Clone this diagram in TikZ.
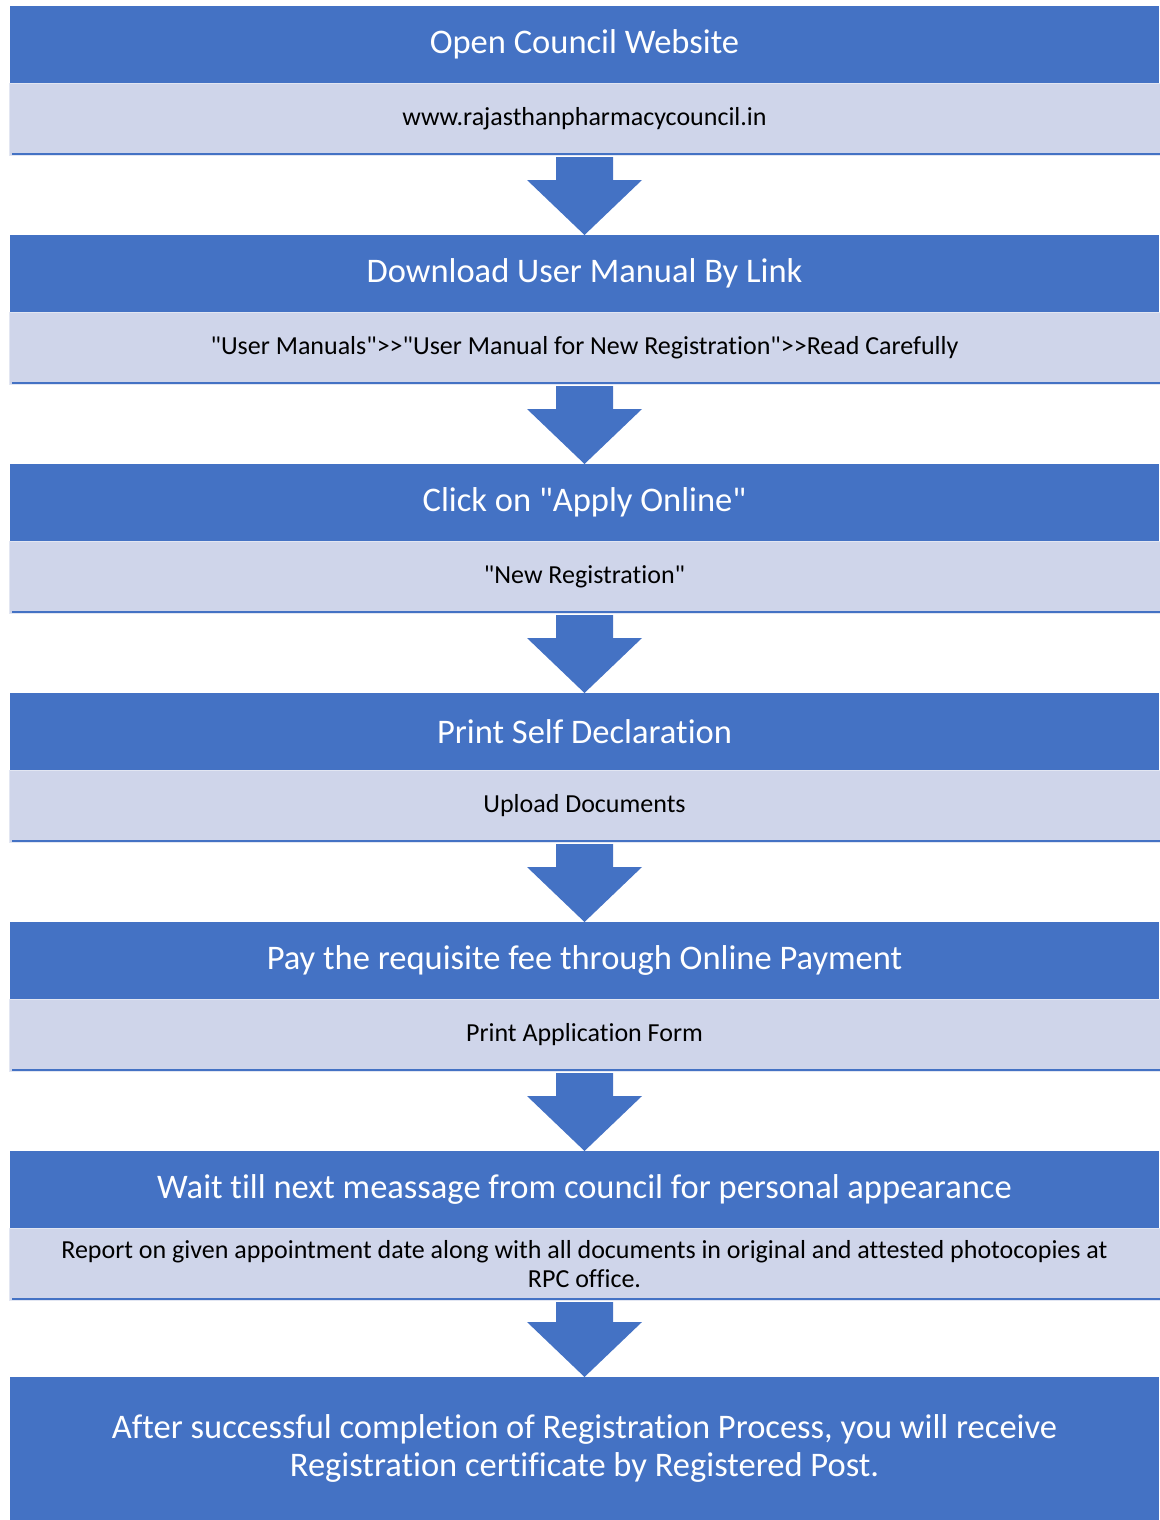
\documentclass[tikz,border=0pt]{standalone}
\usepackage{fontspec}
\setmainfont{Carlito}[Ligatures={TeXOff, CommonOff}]
\usetikzlibrary{positioning, calc}
\definecolor{stepblue}{HTML}{4472C4}
\definecolor{steplight}{HTML}{CFD5EA}
\tikzset{
    head/.style={fill=stepblue, text=white, minimum width=1149pt, minimum height=77pt,
      inner sep=0pt, outer sep=0pt, font=\fontsize{34.5}{38}\selectfont},
    sub/.style={fill=steplight, draw=steplight!60, minimum width=1151pt, minimum height=72pt,
      inner sep=0pt, outer sep=0pt, align=center, font=\fontsize{26}{29}\selectfont},
    subline/.style={stepblue, line width=2pt},
    bigarrow/.style={fill=stepblue},
}
% block arrow from the bottom of one box to the top of the next
\newcommand{\StepArrow}[2]{
    \fill[bigarrow] ($(#1.south)+(-28.5,-2)$) -- ($(#1.south)+(28.5,-2)$)
      -- ($(#2.north)+(28.5,55)$) -- ($(#2.north)+(57.5,55)$) -- (#2.north)
      -- ($(#2.north)+(-57.5,55)$) -- ($(#2.north)+(-28.5,55)$) -- cycle;
}

\begin{document}
\begin{tikzpicture}[x=1pt, y=1pt]
    \useasboundingbox (0,0) rectangle (1159,-1520);
    \tikzset{node distance=80pt}

    \node[head] (h1) at (584.5,-44.5) {Open Council Website};
    \node[sub, below=0pt of h1] (s1) {www.rajasthanpharmacycouncil.in};

    \node[head, below=of s1] (h2) {Download User Manual By Link};
    \node[sub, below=0pt of h2] (s2) {"User Manuals">>"User Manual for New Registration">>Read Carefully};

    \node[head, below=of s2] (h3) {Click on "Apply Online"};
    \node[sub, below=0pt of h3] (s3) {"New Registration"};

    \node[head, below=of s3] (h4) {Print Self Declaration};
    \node[sub, below=0pt of h4] (s4) {Upload Documents};

    \node[head, below=of s4] (h5) {Pay the requisite fee through Online Payment};
    \node[sub, below=0pt of h5] (s5) {Print Application Form};

    \node[head, below=of s5] (h6) {Wait till next meassage from council for personal appearance};
    \node[sub, below=0pt of h6] (s6) {Report on given appointment date along with all documents in original and attested photocopies at\\RPC office.};

    \node[head, minimum height=143pt, align=center, below=77pt of s6] (h7)
      {After successful completion of Registration Process, you will receive\\Registration certificate by Registered Post.};

    \foreach \s in {s1,s2,s3,s4,s5,s6}
      \draw[subline] ($(\s.south west)+(3,1)$) -- ($(\s.south east)+(0,1)$);

    \StepArrow{s1}{h2}
    \StepArrow{s2}{h3}
    \StepArrow{s3}{h4}
    \StepArrow{s4}{h5}
    \StepArrow{s5}{h6}
    \StepArrow{s6}{h7}
\end{tikzpicture}
\end{document}
